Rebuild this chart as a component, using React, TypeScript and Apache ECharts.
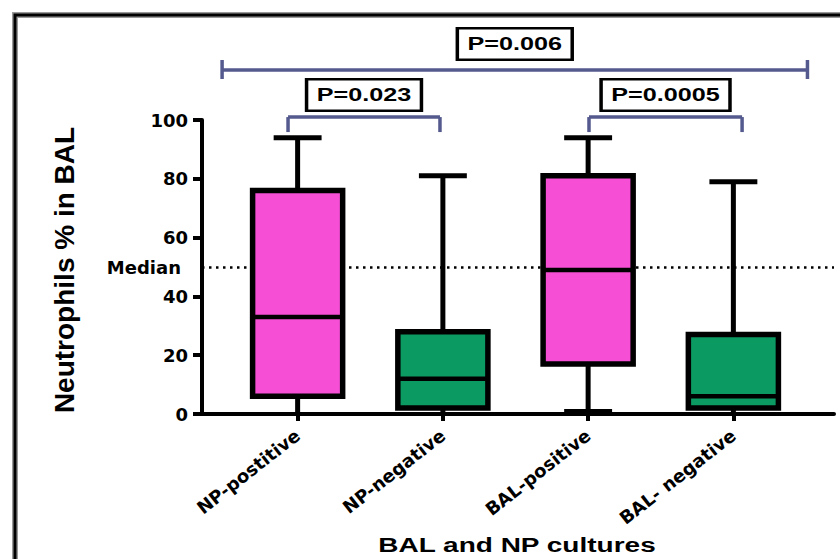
import React, { useEffect, useRef } from 'react';
import * as echarts from 'echarts';

// ---------- data ----------
const categories = ['NP-postitive', 'NP-negative', 'BAL-positive', 'BAL- negative'];
const groupKind = ['positive', 'negative', 'positive', 'negative'];
const minValues = [0, 0, 1, 0];
const q1Values = [6, 2, 17, 2];
const medianValues = [33, 12, 49, 6];
const q3Values = [76, 28, 81, 27];
const maxValues = [94, 81, 94, 79];
const yTickValues = [0, 20, 40, 60, 80, 100];
const medianReference = 50;
const medianLabel = 'Median';
const comparisonFrom = [0, 2, 0];
const comparisonTo = [1, 3, 3];
const pValueLabels = ['P=0.023', 'P=0.0005', 'P=0.006'];
const yTitle = 'Neutrophils % in BAL';
const xTitle = 'BAL and NP cultures';

// ---------- layout / style ----------
const kindColor: Record<string, string> = { positive: '#f64fd6', negative: '#0c9a63' };
const bracketColor = '#545a8e';
const bracketLayout = [
  { level: 101, extL: -0.066, extR: -0.02, tickUp: 0, tickDown: 15, labelDy: -22 },
  { level: 101, extL: 0.006, extR: 0.06, tickUp: 0, tickDown: 15, labelDy: -22 },
  { level: 117, extL: -0.52, extR: 0.51, tickUp: 10, tickDown: 9, labelDy: -26 },
];
const labelFont = 'DejaVu Sans';
const gridTop = 120;
const gridBottom = 145;

export default function App() {
  const ref = useRef<HTMLDivElement>(null);
  useEffect(() => {
    if (!ref.current) return;
    const chart = echarts.init(ref.current, undefined, { renderer: 'svg' });

    const boxData = categories.map((_, i) => [
      i, minValues[i], q1Values[i], medianValues[i], q3Values[i], maxValues[i],
    ]);
    const bracketData = comparisonFrom.map((f, i) => [f, comparisonTo[i], bracketLayout[i].level]);

    const option: any = {
      animation: false,
      backgroundColor: '#ffffff',
      grid: [
        { left: 225, right: 34, top: gridTop, bottom: gridBottom },
        { left: 202, right: 6, top: gridTop, bottom: gridBottom },
      ],
      xAxis: [
        {
          type: 'category',
          gridIndex: 0,
          data: categories,
          boundaryGap: true,
          axisLine: { show: false },
          axisTick: { show: true, alignWithLabel: true, length: 7, lineStyle: { color: '#000', width: 4 } },
          axisLabel: {
            interval: 0,
            rotate: 38,
            margin: 19,
            color: '#000',
            fontFamily: labelFont,
            fontWeight: 'bold',
            fontSize: 18,
          },
          splitLine: { show: false },
        },
        {
          type: 'value',
          gridIndex: 1,
          min: 0,
          max: 1,
          z: 10,
          axisLine: { show: true, lineStyle: { color: '#000', width: 4 } },
          axisTick: { show: false },
          axisLabel: { show: false },
          splitLine: { show: false },
        },
      ],
      yAxis: [
        { type: 'value', gridIndex: 0, min: 0, max: 100, show: false },
        {
          type: 'value',
          gridIndex: 1,
          min: yTickValues[0],
          max: yTickValues[yTickValues.length - 1],
          interval: yTickValues[1] - yTickValues[0],
          z: 10,
          axisLine: { show: true, lineStyle: { color: '#000', width: 4 } },
          axisTick: { show: true, length: 9, lineStyle: { color: '#000', width: 4 } },
          axisLabel: {
            margin: 14,
            color: '#000',
            fontFamily: labelFont,
            fontWeight: 'bold',
            fontSize: 18,
          },
          splitLine: { show: false },
        },
      ],
      series: [
        {
          type: 'line',
          xAxisIndex: 1,
          yAxisIndex: 1,
          z: 1,
          data: [[0, medianReference], [1, medianReference]],
          symbol: 'none',
          silent: true,
          lineStyle: { opacity: 0 },
          markLine: {
            silent: true,
            symbol: 'none',
            data: [{ yAxis: medianReference }],
            lineStyle: { color: '#000', width: 2.5, type: [2.5, 4.5] },
            label: {
              show: true,
              position: 'start',
              distance: 21,
              formatter: medianLabel,
              color: '#000',
              fontFamily: labelFont,
              fontWeight: 'bold',
              fontSize: 18,
            },
          },
        },
        {
          type: 'custom',
          xAxisIndex: 0,
          yAxisIndex: 0,
          z: 5,
          data: boxData,
          encode: { x: 0, y: [1, 2, 3, 4, 5] },
          renderItem: (params: any, api: any) => {
            const i = api.value(0);
            const cx = api.coord([i, 0])[0];
            const band = api.size([1, 0])[0];
            const hw = band * 0.31;
            const cw = band * 0.165;
            const yMin = api.coord([i, api.value(1)])[1];
            const yQ1 = api.coord([i, api.value(2)])[1];
            const yMed = api.coord([i, api.value(3)])[1];
            const yQ3 = api.coord([i, api.value(4)])[1];
            const yMax = api.coord([i, api.value(5)])[1];
            const ls = { stroke: '#000', lineWidth: 5 };
            const capStyle = { stroke: '#000', lineWidth: 4 };
            return {
              type: 'group',
              children: [
                { type: 'line', shape: { x1: cx, y1: yQ3, x2: cx, y2: yMax }, style: ls },
                { type: 'line', shape: { x1: cx - cw, y1: yMax, x2: cx + cw, y2: yMax }, style: ls },
                { type: 'line', shape: { x1: cx, y1: yQ1, x2: cx, y2: yMin }, style: ls },
                { type: 'line', shape: { x1: cx - cw, y1: yMin, x2: cx + cw, y2: yMin }, style: capStyle },
                {
                  type: 'rect',
                  shape: { x: cx - hw, y: yQ3, width: hw * 2, height: yQ1 - yQ3 },
                  style: { fill: kindColor[groupKind[params.dataIndex]], stroke: '#000', lineWidth: 5.5 },
                },
                { type: 'line', shape: { x1: cx - hw, y1: yMed, x2: cx + hw, y2: yMed }, style: { stroke: '#000', lineWidth: 4.5 } },
              ],
            };
          },
        },
        {
          type: 'custom',
          xAxisIndex: 0,
          yAxisIndex: 0,
          z: 6,
          clip: false,
          data: bracketData,
          encode: { x: [0, 1], y: 2 },
          renderItem: (params: any, api: any) => {
            const k = params.dataIndex;
            const L = bracketLayout[k];
            const band = api.size([1, 0])[0];
            const xa = api.coord([api.value(0), api.value(2)])[0] + L.extL * band;
            const xb = api.coord([api.value(1), api.value(2)])[0] + L.extR * band;
            const y = api.coord([api.value(0), api.value(2)])[1];
            const st = { stroke: bracketColor, lineWidth: 3.5 };
            return {
              type: 'group',
              children: [
                { type: 'line', shape: { x1: xa, y1: y, x2: xb, y2: y }, style: st },
                { type: 'line', shape: { x1: xa, y1: y - L.tickUp, x2: xa, y2: y + L.tickDown }, style: st },
                { type: 'line', shape: { x1: xb, y1: y - L.tickUp, x2: xb, y2: y + L.tickDown }, style: st },
                {
                  type: 'text',
                  x: (xa + xb) / 2,
                  y: y + L.labelDy,
                  scaleX: 1.4,
                  style: {
                    text: pValueLabels[k],
                    font: 'bold 18px Arial, "Liberation Sans", sans-serif',
                    fill: '#000',
                    align: 'center',
                    verticalAlign: 'middle',
                    backgroundColor: '#fff',
                    borderColor: '#000',
                    borderWidth: 2.5,
                    padding: [6, 6, 5, 6],
                  },
                },
              ],
            };
          },
        },
      ],
      graphic: [
        {
          type: 'rect',
          silent: true,
          shape: { x: 15, y: 15, width: 900, height: 600 },
          style: { fill: 'none', stroke: '#9a9a9a', lineWidth: 6 },
        },
        {
          type: 'rect',
          silent: true,
          shape: { x: 15, y: 15, width: 900, height: 600 },
          style: { fill: 'none', stroke: '#000', lineWidth: 3 },
        },
        {
          type: 'text',
          x: 64,
          y: 270,
          rotation: Math.PI / 2,
          style: {
            text: yTitle,
            font: 'bold 28px Arial, "Liberation Sans", sans-serif',
            fill: '#000',
            align: 'center',
            verticalAlign: 'middle',
          },
        },
        {
          type: 'text',
          x: 517,
          y: 545,
          scaleX: 1.4,
          style: {
            text: xTitle,
            font: 'bold 20px Arial, "Liberation Sans", sans-serif',
            fill: '#000',
            align: 'center',
            verticalAlign: 'middle',
          },
        },
      ],
    };
    chart.setOption(option);
    return () => chart.dispose();
  }, []);
  return (
    <div
      ref={ref}
      style={{ position: 'fixed', left: 0, top: 0, width: 840, height: 559, background: '#fff' }}
    />
  );
}
